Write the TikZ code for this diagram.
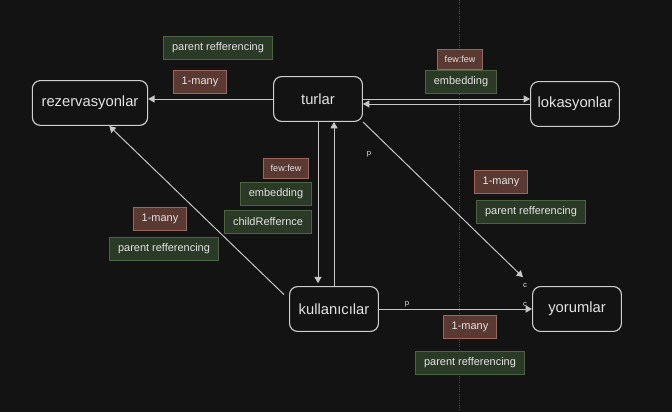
\documentclass[tikz,border=0pt]{standalone}
\usepackage{fontspec}
\setmainfont{Liberation Sans}
\usetikzlibrary{arrows.meta}
\definecolor{bg}{HTML}{131313}
\definecolor{boxline}{HTML}{CFCFCF}
\definecolor{wire}{HTML}{C8C8C8}
\definecolor{txt}{HTML}{E4E4E4}
\definecolor{redfill}{HTML}{5A3933}
\definecolor{redline}{HTML}{9E675E}
\definecolor{greenfill}{HTML}{2B3927}
\definecolor{greenline}{HTML}{4C6444}
\definecolor{guide}{HTML}{4A4A4A}
\begin{document}
\begin{tikzpicture}[x=0.025cm, y=-0.025cm,
  entity/.style={draw=boxline, rounded corners=0.2cm, line width=0.8pt, text=txt,
    font=\fontsize{10.5}{12}\selectfont, minimum width=2.22cm, minimum height=1.12cm},
  tagred/.style={draw=redline, fill=redfill, text=txt, line width=0.6pt,
    font=\fontsize{7.8}{9}\selectfont, inner xsep=6pt, minimum height=0.56cm},
  taggreen/.style={tagred, draw=greenline, fill=greenfill},
  tagsmall/.style={tagred, font=\fontsize{6.4}{8}\selectfont, inner xsep=5pt, minimum height=0.5cm},
  rel/.style={draw=wire, line width=0.7pt, -{Triangle[length=4.5pt,width=5pt]}},
  card/.style={text=txt, font=\fontsize{5.5}{6}\selectfont, inner sep=0pt}]
\fill[bg] (0,0) rectangle (672,412);
\useasboundingbox (0,0) rectangle (672,412);
\draw[guide, densely dotted, line width=0.6pt] (459,0) -- (459,412);

\node[entity, minimum width=2.88cm] (rezervasyonlar) at (90,103){rezervasyonlar};
\node[entity] (turlar) at (318,99){turlar};
\node[entity] (lokasyonlar) at (575,104){lokasyonlar};
\node[entity] (kullanicilar) at (334,309){kullanıcılar};
\node[entity] (yorumlar) at (577,309){yorumlar};

\node[taggreen] (tg1) at (218,48){parent refferencing};
\node[tagred] (tr1) at (200,82){1-many};
\node[tagsmall] (tr2) at (460,59){few:few};
\node[taggreen] (tg2) at (461,82){embedding};
\node[tagred] (tr3) at (501,182){1-many};
\node[taggreen] (tg3) at (531,212){parent refferencing};
\node[tagsmall] (tr4) at (286,168){few:few};
\node[taggreen] (tg4) at (276,194){embedding};
\node[taggreen] (tg5) at (268,222){childReffernce};
\node[tagred] (tr5) at (160,219){1-many};
\node[taggreen] (tg6) at (164,249){parent refferencing};
\node[tagred] (tr6) at (470,327){1-many};
\node[taggreen] (tg7) at (470,363){parent refferencing};

\node[card] (p1) at (369,154){p};
\node[card] (c1) at (525,285){c};
\node[card] (c2) at (525,304){c};
\node[card] (p2) at (407,304){p};

\draw[rel](turlar.west) -- (turlar.west -| rezervasyonlar.east);
\draw[rel](turlar.east) -- (turlar.east -| lokasyonlar.west);
\draw[rel](lokasyonlar.west) -- (lokasyonlar.west -| turlar.east);
\draw[rel, shorten >=2pt](turlar.south) -- (turlar.south |- kullanicilar.north);
\draw[rel](kullanicilar.north) -- (kullanicilar.north |- turlar.south);
\draw[rel, shorten <=5pt](kullanicilar.168) -- (rezervasyonlar.-50);
\draw[rel, shorten >=9pt](turlar.south east) -- (yorumlar.north west);
\draw[rel](kullanicilar.east) -- (yorumlar.west);

\end{tikzpicture}
\end{document}
